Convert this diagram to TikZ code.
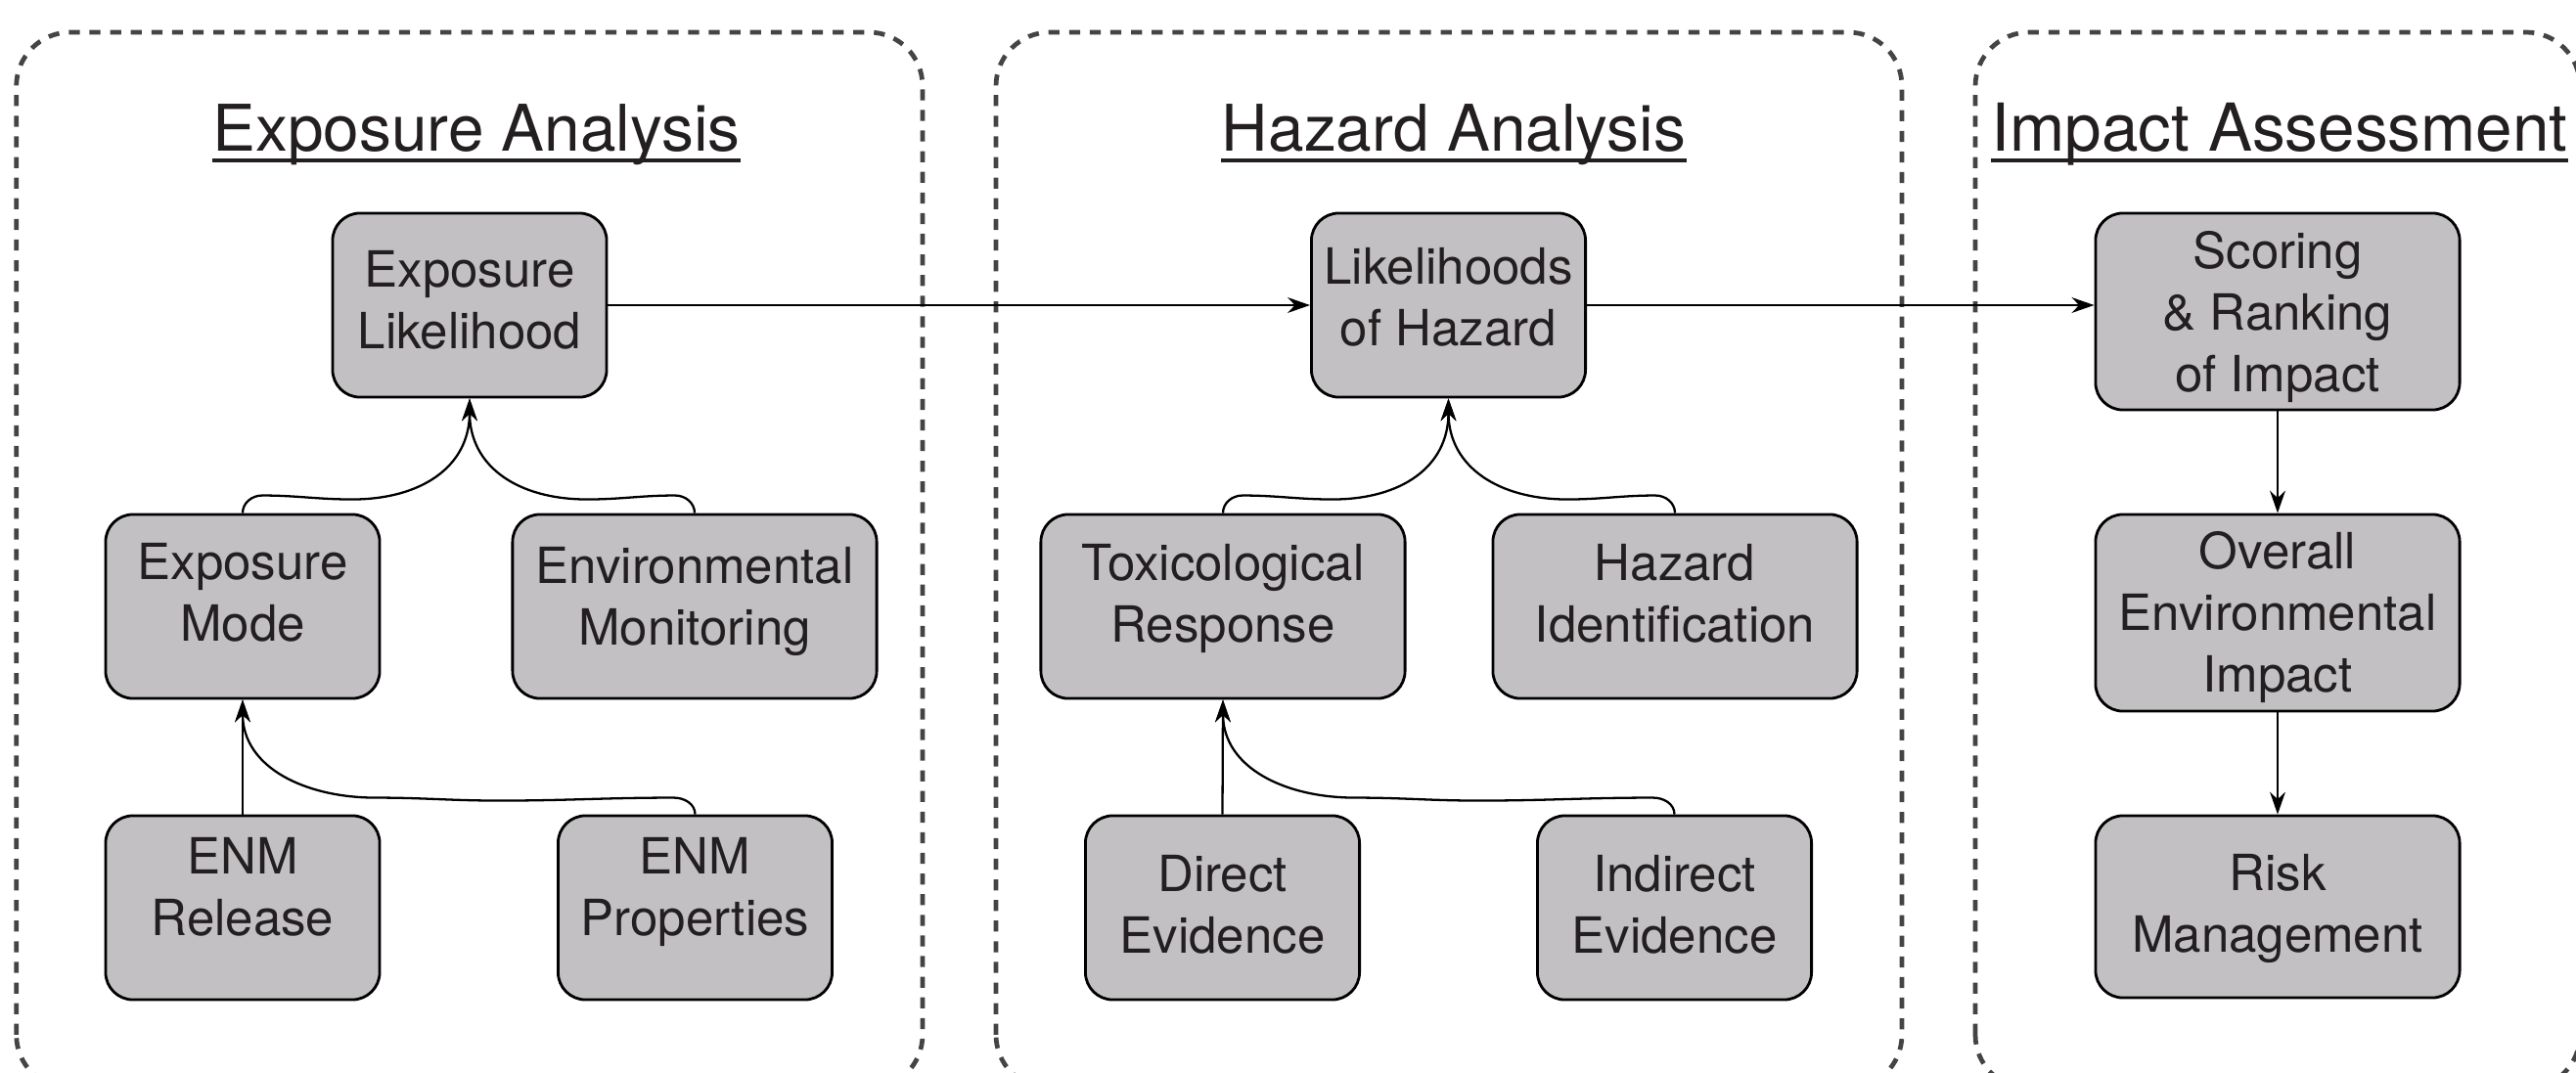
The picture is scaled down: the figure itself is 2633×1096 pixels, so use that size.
\documentclass[tikz,border=0pt]{standalone}
\usepackage{fontspec}
\setmainfont{TeX Gyre Heros}
\usetikzlibrary{arrows.meta,calc}
\definecolor{boxfill}{RGB}{194,192,195}
\definecolor{framegray}{RGB}{68,68,68}
\definecolor{ink}{RGB}{35,31,32}
\newcommand\boxlines[1]{\begin{tabular}{@{}c@{}}#1\end{tabular}}
\begin{document}
\begin{tikzpicture}[x=0.01cm,y=0.01cm,
  frame/.style={draw=framegray,line width=1.35pt,dash pattern=on 3.2pt off 2.8pt,rounded corners=0.55cm},
  stagebox/.style={draw=black,fill=boxfill,line width=0.8pt,rounded corners=0.28cm,inner sep=0pt,minimum height=1.88cm},
  narrowbox/.style={minimum width=2.8cm},
  widebox/.style={minimum width=3.72cm},
  boxtext/.style={text=ink,font=\fontsize{14.5}{17.9}\selectfont,inner sep=0pt},
  titletext/.style={text=ink,font=\fontsize{19.2}{23}\selectfont,inner sep=0pt,anchor=base},
  uline/.style={draw=ink,line width=1pt},
  conn/.style={draw=black,line width=0.65pt,-{Stealth[length=6.5pt,width=4.5pt]}}]

\useasboundingbox (0,0) rectangle (2633,1096);
\clip (0,0) rectangle (2633,1096);

% panel frames
\draw[frame] (16.7,-17) rectangle (943,1063);
\draw[frame] (1018,-17) rectangle (1944,1063);
\draw[frame] (2019,-17) rectangle (2637,1063);

% titles
\node[titletext,font=\fontsize{18.7}{23}\selectfont] (t1) at (487,941) {Exposure Analysis};
\node[titletext,font=\fontsize{18.7}{23}\selectfont] (t2) at (1486,941) {Hazard Analysis};
\node[titletext] (t3) at (2330,941) {Impact Assessment};
\draw[uline] ($(t1.base west)+(0,-9)$) -- ($(t1.base east)+(0,-9)$);
\draw[uline] ($(t2.base west)+(0,-9)$) -- ($(t2.base east)+(0,-9)$);
\draw[uline] ($(t3.base west)+(0,-9)$) -- ($(t3.base east)+(0,-9)$);

% boxes
\node[stagebox,narrowbox] (explik) at (480,784) {};
\node[stagebox,narrowbox] (mode) at (248,476) {};
\node[stagebox,widebox] (envmon) at (710,476) {};
\node[stagebox,narrowbox] (release) at (248,168) {};
\node[stagebox,narrowbox] (props) at (710.5,168) {};
\node[stagebox,narrowbox] (likhaz) at (1480.5,784) {};
\node[stagebox,widebox] (tox) at (1250,476) {};
\node[stagebox,widebox] (hazid) at (1712,476) {};
\node[stagebox,narrowbox] (direct) at (1249.5,168) {};
\node[stagebox,narrowbox] (indirect) at (1711.5,168) {};
\node[stagebox,widebox,minimum height=2.01cm] (scoring) at (2328,777.5) {};
\node[stagebox,widebox,minimum height=2.01cm] (overall) at (2328,469.5) {};
\node[stagebox,widebox,minimum height=1.86cm] (risk) at (2328,169) {};

% box texts
\node[boxtext] (explikT) at (480,784) {\boxlines{Exposure\\Likelihood}};
\node[boxtext] (modeT) at (248,485) {\boxlines{Exposure\\Mode}};
\node[boxtext] (envmonT) at (710,481) {\boxlines{Environmental\\Monitoring}};
\node[boxtext] (releaseT) at (248,184) {\boxlines{ENM\\Release}};
\node[boxtext] (propsT) at (710.5,184) {\boxlines{ENM\\Properties}};
\node[boxtext] (likhazT) at (1480.5,787) {\boxlines{Likelihoods\\of Hazard}};
\node[boxtext] (toxT) at (1250,484) {\boxlines{Toxicological\\Response}};
\node[boxtext] (hazidT) at (1712,484) {\boxlines{Hazard\\Identification}};
\node[boxtext] (directT) at (1249.5,166) {\boxlines{Direct\\Evidence}};
\node[boxtext] (indirectT) at (1711.5,166) {\boxlines{Indirect\\Evidence}};
\node[boxtext] (scoringT) at (2328,771) {\boxlines{Scoring\\\& Ranking\\of Impact}};
\node[boxtext] (overallT) at (2328,464) {\boxlines{Overall\\Environmental\\Impact}};
\node[boxtext] (riskT) at (2328,167) {\boxlines{Risk\\Management}};

% straight connectors
\draw[conn] (explik.east) -- (likhaz.west);
\draw[conn] (likhaz.east) -- (likhaz.east -| scoring.west);
\draw[conn] (scoring.south) -- (overall.north);
\draw[conn] (overall.south) -- (risk.north);
\draw[conn] (release.north) -- (mode.south);
\draw[conn] (direct.north) -- (tox.south);

% curved connectors, exposure panel
\draw[conn] (mode.north) to[out=90,in=180] ++(20,18) to[out=0,in=180] ++(92,-4)
  .. controls +(70,0) and +(0,-70) .. (explik.south);
\draw[conn] (envmon.north) to[out=90,in=0] ++(-20,18) to[out=180,in=0] ++(-90,-4)
  .. controls +(-70,0) and +(0,-70) .. (explik.south);
\draw[conn] (props.north) to[out=90,in=0] ++(-22,17) to[out=180,in=0] ++(-178,-3)
  to[out=180,in=0] ++(-127,3) .. controls +(-70,0) and +(0,-70) .. (mode.south);

% curved connectors, hazard panel
\draw[conn] (tox.north) to[out=90,in=180] ++(20,18) to[out=0,in=180] ++(92,-4)
  .. controls +(70,0) and +(0,-70) .. (likhaz.south);
\draw[conn] (hazid.north) to[out=90,in=0] ++(-20,18) to[out=180,in=0] ++(-90,-4)
  .. controls +(-70,0) and +(0,-70) .. (likhaz.south);
\draw[conn] (indirect.north) to[out=90,in=0] ++(-22,17) to[out=180,in=0] ++(-178,-3)
  to[out=180,in=0] ++(-127,3) .. controls +(-70,0) and +(0,-70) .. (tox.south);
\end{tikzpicture}
\end{document}
